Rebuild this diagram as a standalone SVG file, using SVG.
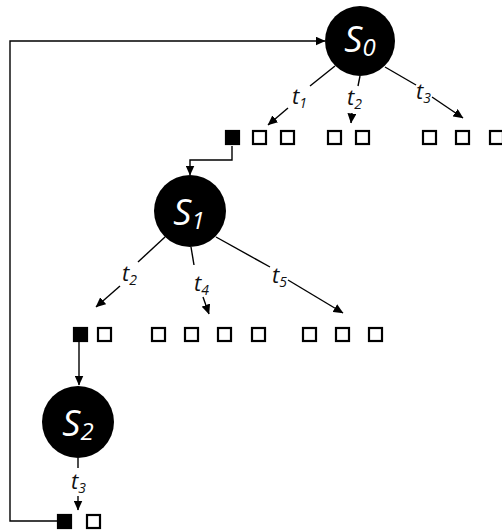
<svg xmlns="http://www.w3.org/2000/svg" width="502" height="532" viewBox="0 0 502 532">
  <style>
    .state { fill: #000; }
    .state-label { font-family: "Open Sans", "Noto Sans", sans-serif; font-style: italic; font-size: 36px; fill: #fff; text-anchor: middle; }
    .edge { fill: none; stroke: #000; stroke-width: 1.4; }
    .slot { fill: #fff; stroke: #000; stroke-width: 2.2; }
    .slot.taken { fill: #000; }
    .t { font-family: "Open Sans", "Noto Sans", sans-serif; font-style: italic; font-size: 22px; fill: #111; }
    .t tspan { font-size: 14px; }
  </style>
  <defs>
    <marker id="arrow" markerWidth="10" markerHeight="9" refX="9.5" refY="4.5" orient="auto" markerUnits="userSpaceOnUse">
      <path d="M0,0 L10,4.5 L0,9 Z" fill="#000"/>
    </marker>
  </defs>

  <rect width="502" height="532" fill="#fff"/>

  <!-- connectors -->
  <g id="connectors">
    <path class="edge" d="M57,521 H10 V41 H325" marker-end="url(#arrow)"/>
    <path class="edge" d="M232,146 V160 H190 V175" marker-end="url(#arrow)"/>
    <path class="edge" d="M79,342 V385" marker-end="url(#arrow)"/>

    <!-- S0 branches -->
    <line class="edge" x1="335" y1="66" x2="310" y2="86"/>
    <line class="edge" x1="288" y1="108" x2="268" y2="125" marker-end="url(#arrow)"/>
    <line class="edge" x1="360" y1="76" x2="358" y2="86"/>
    <line class="edge" x1="352" y1="113" x2="351" y2="123" marker-end="url(#arrow)"/>
    <line class="edge" x1="385" y1="67" x2="416" y2="85"/>
    <line class="edge" x1="432" y1="97" x2="463" y2="118" marker-end="url(#arrow)"/>

    <!-- S1 branches -->
    <line class="edge" x1="165" y1="237" x2="138" y2="262"/>
    <line class="edge" x1="120" y1="286" x2="96" y2="307" marker-end="url(#arrow)"/>
    <line class="edge" x1="191" y1="247" x2="194" y2="265"/>
    <line class="edge" x1="203" y1="297" x2="209" y2="314" marker-end="url(#arrow)"/>
    <line class="edge" x1="216" y1="237" x2="270" y2="267"/>
    <line class="edge" x1="288" y1="280" x2="343" y2="313" marker-end="url(#arrow)"/>

    <!-- S2 branch -->
    <line class="edge" x1="78" y1="458" x2="78" y2="468"/>
    <line class="edge" x1="78" y1="496" x2="78" y2="510" marker-end="url(#arrow)"/>
  </g>

  <!-- transition labels -->
  <g id="labels">
    <text class="t" x="292" y="104">t<tspan dy="4">1</tspan></text>
    <text class="t" x="347" y="105">t<tspan dy="4">2</tspan></text>
    <text class="t" x="416" y="99">t<tspan dy="4">3</tspan></text>
    <text class="t" x="122" y="281">t<tspan dy="4">2</tspan></text>
    <text class="t" x="194" y="291">t<tspan dy="4">4</tspan></text>
    <text class="t" x="272" y="283">t<tspan dy="4">5</tspan></text>
    <text class="t" x="71" y="489">t<tspan dy="4">3</tspan></text>
  </g>

  <!-- states -->
  <g id="S0">
    <circle class="state" cx="360" cy="41" r="35"/>
    <text class="state-label" x="360" y="52">S<tspan font-size="24" dy="4">0</tspan></text>
  </g>
  <g id="S1">
    <circle class="state" cx="190" cy="211" r="36"/>
    <text class="state-label" x="189" y="225">S<tspan font-size="24" dy="4">1</tspan></text>
  </g>
  <g id="S2">
    <circle class="state" cx="78" cy="422" r="36"/>
    <text class="state-label" x="78" y="436">S<tspan font-size="24" dy="4">2</tspan></text>
  </g>

  <!-- slot rows -->
  <g id="row0">
    <rect class="slot taken" x="226" y="131" width="13" height="13"/>
    <rect class="slot" x="253" y="131" width="13" height="13"/>
    <rect class="slot" x="281" y="131" width="13" height="13"/>
    <rect class="slot" x="328" y="131" width="13" height="13"/>
    <rect class="slot" x="356" y="131" width="13" height="13"/>
    <rect class="slot" x="423" y="131" width="13" height="13"/>
    <rect class="slot" x="456" y="131" width="13" height="13"/>
    <rect class="slot" x="490" y="131" width="13" height="13"/>
  </g>
  <g id="row1">
    <rect class="slot taken" x="74" y="328" width="13" height="13"/>
    <rect class="slot" x="98" y="328" width="13" height="13"/>
    <rect class="slot" x="152" y="328" width="13" height="13"/>
    <rect class="slot" x="185" y="328" width="13" height="13"/>
    <rect class="slot" x="218" y="328" width="13" height="13"/>
    <rect class="slot" x="252" y="328" width="13" height="13"/>
    <rect class="slot" x="303" y="328" width="13" height="13"/>
    <rect class="slot" x="336" y="328" width="13" height="13"/>
    <rect class="slot" x="369" y="328" width="13" height="13"/>
  </g>
  <g id="row2">
    <rect class="slot taken" x="58" y="515" width="13" height="13"/>
    <rect class="slot" x="87" y="515" width="13" height="13"/>
  </g>
</svg>
